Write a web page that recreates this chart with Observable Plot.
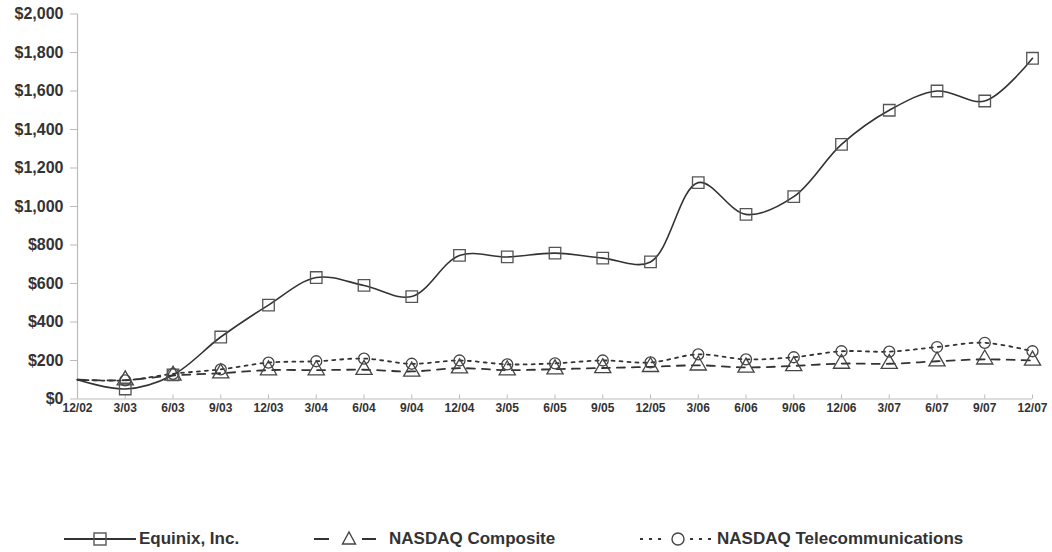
<!DOCTYPE html>
<html>
<head>
<meta charset="utf-8">
<script src="https://cdn.jsdelivr.net/npm/d3@7"></script>
<script src="https://cdn.jsdelivr.net/npm/@observablehq/plot@0.6"></script>
<style>
  body { margin: 0; background: #fff; font-family: "Liberation Sans", Arial, sans-serif; }
  #wrap { position: relative; width: 1052px; height: 552px; }
  #legend { position: absolute; top: 527px; left: 0; width: 1052px; height: 24px; }
  .item { position: absolute; top: 0; display: flex; align-items: center; height: 24px;
          font-weight: bold; font-size: 17px; color: #333; white-space: nowrap; }
  .item svg { margin-right: 3px; }
</style>
</head>
<body>
<div id="wrap">
  <div id="chart"></div>
  <div id="legend"></div>
</div>
<script>
const periods = ["12/02","3/03","6/03","9/03","12/03","3/04","6/04","9/04","12/04","3/05","6/05","9/05","12/05","3/06","6/06","9/06","12/06","3/07","6/07","9/07","12/07"];
const equinix   = [100, 52, 125, 322, 488, 631, 590, 532, 746, 738, 758, 732, 712, 1124, 959, 1051, 1323, 1500, 1600, 1548, 1770];
const composite = [100, 98, 122, 134, 150, 150, 152, 143, 160, 150, 155, 161, 167, 175, 164, 172, 184, 183, 196, 206, 200];
const telecom   = [100, 97, 131, 154, 189, 196, 210, 183, 200, 180, 185, 200, 190, 232, 206, 217, 248, 246, 270, 292, 248];
const yTicks = [0, 200, 400, 600, 800, 1000, 1200, 1400, 1600, 1800, 2000];
const seriesNames = ["Equinix, Inc.", "NASDAQ Composite", "NASDAQ Telecommunications"];

const rows = (vals) => periods.map((p, i) => ({period: p, value: vals[i], i}));
const eq = rows(equinix), co = rows(composite), te = rows(telecom);
const markersOnly = (d) => d.i > 0;

const ink = "#333";
const chart = Plot.plot({
  width: 1052,
  height: 420,
  marginLeft: 77,
  marginRight: 20,
  marginTop: 13.5,
  marginBottom: 21.5,
  style: {fontFamily: "'Liberation Sans', Arial, sans-serif", fontWeight: "bold", background: "#fff"},
  x: {type: "point", domain: periods, padding: 0, round: false},
  y: {domain: [0, 2000]},
  marks: [
    Plot.ruleX([periods[0]], {stroke: "#bbb", strokeWidth: 1.2}),
    Plot.ruleY([0], {stroke: "#bbb", strokeWidth: 1.2}),
    Plot.axisY({ticks: yTicks, tickFormat: d => "$" + d3.format(",")(d), tickSize: 7, tickPadding: 7,
                stroke: "#bbb", fill: ink, fontSize: 16, label: null}),
    Plot.axisX({tickSize: -4, stroke: "#bbb", text: null, label: null}),
    Plot.axisX({tickSize: 0, tickPadding: 4, fill: ink, fontSize: 12, label: null}),
    // Telecom: dotted
    Plot.line(te, {x: "period", y: "value", stroke: ink, strokeWidth: 1.8, strokeDasharray: "3,5", curve: "catmull-rom"}),
    // Composite: dashed
    Plot.line(co, {x: "period", y: "value", stroke: ink, strokeWidth: 1.8, strokeDasharray: "8,7", curve: "catmull-rom"}),
    // Equinix: solid smooth
    Plot.line(eq, {x: "period", y: "value", stroke: ink, strokeWidth: 1.6, curve: "catmull-rom"}),
    Plot.dot(te.filter(markersOnly), {x: "period", y: "value", symbol: "circle", r: 5.5, stroke: "#444", strokeWidth: 1.3, fill: "none"}),
    Plot.dot(co.filter(markersOnly), {x: "period", y: "value", symbol: "triangle", r: 6, stroke: "#444", strokeWidth: 1.3, fill: "none"}),
    Plot.dot(eq.filter(markersOnly), {x: "period", y: "value", symbol: "square", r: 6.5, stroke: "#555", strokeWidth: 1.3, fill: "none"})
  ]
});
document.getElementById("chart").appendChild(chart);

// Legend
const legend = document.getElementById("legend");
const swatches = [
  {left: 64, w: 72, svg: `<line x1="0" y1="12" x2="72" y2="12" stroke="${ink}" stroke-width="2"/><rect x="30" y="6" width="12" height="12" fill="none" stroke="#555" stroke-width="1.4"/>`},
  {left: 314, w: 72, svg: `<line x1="0" y1="12" x2="15" y2="12" stroke="${ink}" stroke-width="2"/><line x1="48" y1="12" x2="62" y2="12" stroke="${ink}" stroke-width="2"/><path d="M35,5 L41.5,17 L28.5,17 Z" fill="none" stroke="#444" stroke-width="1.4"/>`},
  {left: 640, w: 74, svg: `<line x1="0" y1="12" x2="24" y2="12" stroke="${ink}" stroke-width="2" stroke-dasharray="3,6"/><line x1="50" y1="12" x2="74" y2="12" stroke="${ink}" stroke-width="2" stroke-dasharray="3,6"/><circle cx="38" cy="12" r="6" fill="none" stroke="#444" stroke-width="1.4"/>`}
];
seriesNames.forEach((name, k) => {
  const s = swatches[k];
  const div = document.createElement("div");
  div.className = "item";
  div.style.left = s.left + "px";
  div.innerHTML = `<svg width="${s.w}" height="24">${s.svg}</svg><span>${name}</span>`;
  legend.appendChild(div);
});
</script>
</body>
</html>
